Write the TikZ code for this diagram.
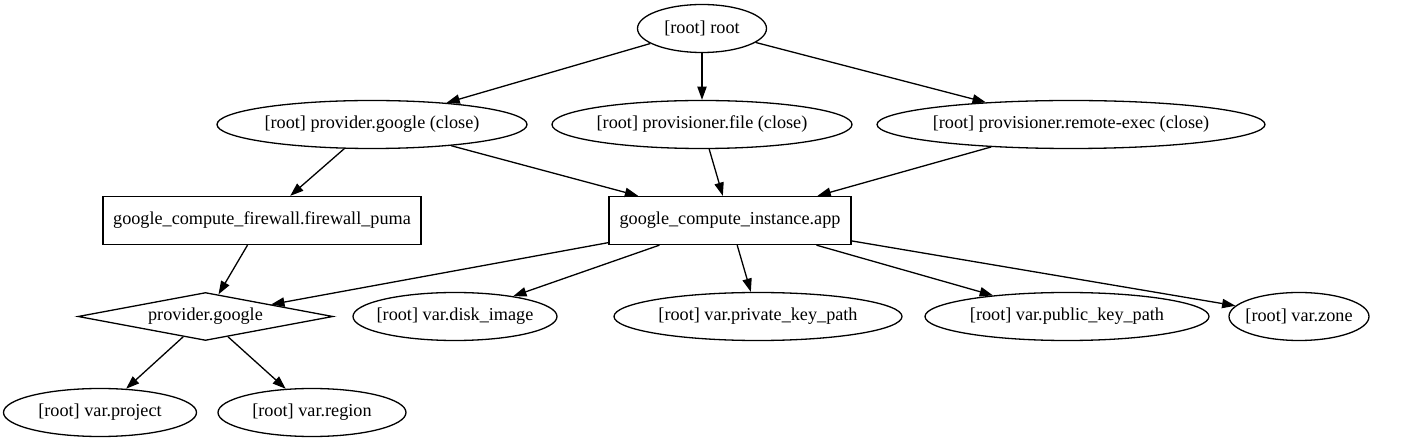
\documentclass[tikz,border=0pt]{standalone}
\usepackage{fontspec}
\setmainfont{Liberation Serif}
\usetikzlibrary{shapes.geometric,arrows.meta}
\begin{document}
\begin{tikzpicture}[x=1pt,y=-1pt,
  every node/.style={font=\fontsize{18.2}{20}\selectfont, line width=1.3pt, inner sep=0pt},
  resource/.style={draw, ellipse, inner xsep=-7pt, minimum height=48pt},
  box/.style={draw, rectangle, minimum height=48pt},
  prov/.style={draw, diamond, aspect=5.3, minimum height=48pt},
  edge/.style={line width=1.3pt, -{Triangle[length=13.3pt,width=9.3pt]}}]

\useasboundingbox (0,0) rectangle (1406,443);

%root and the close nodes
\node [resource, minimum width=129pt] (root) at (702,28.5) {[root] root};
\node [resource, minimum width=310pt] (pgclose) at (372,124.5) {[root] provider.google (close)};
\node [resource, minimum width=300pt] (pfile) at (702,124.5) {[root] provisioner.file (close)};
\node [resource, minimum width=388pt] (premote) at (1071,124.5) {[root] provisioner.remote-exec (close)};

%resources
\node [box, minimum width=318pt] (firewall) at (262,220.5) {google\_compute\_firewall.firewall\_puma};
\node [box, minimum width=242pt] (instance) at (730,220.5) {google\_compute\_instance.app};

%provider and variables
\node [prov, minimum width=255pt] (provider) at (205.5,316.5) {provider.google};
\node [resource, minimum width=204pt] (diskimage) at (455,316.5) {[root] var.disk\_image};
\node [resource, minimum width=288pt] (privatekey) at (758,316.5) {[root] var.private\_key\_path};
\node [resource, minimum width=284pt] (publickey) at (1067,316.5) {[root] var.public\_key\_path};
\node [resource, minimum width=140pt] (zone) at (1299,316.5) {[root] var.zone};
\node [resource, minimum width=193pt] (project) at (100,412.5) {[root] var.project};
\node [resource, minimum width=188pt] (region) at (312,412.5) {[root] var.region};

%edges
\foreach \t in {pgclose,pfile,premote} \draw [edge] (root) -- (\t);
\foreach \s in {pgclose,pfile,premote} \draw [edge] (\s) -- (instance);
\draw [edge] (pgclose) -- (firewall);
\draw [edge] (firewall) -- (provider);
\foreach \t in {provider,diskimage,privatekey,publickey,zone} \draw [edge] (instance) -- (\t);
\draw [edge] (provider) -- (project);
\draw [edge] (provider) -- (region);

\end{tikzpicture}
\end{document}
